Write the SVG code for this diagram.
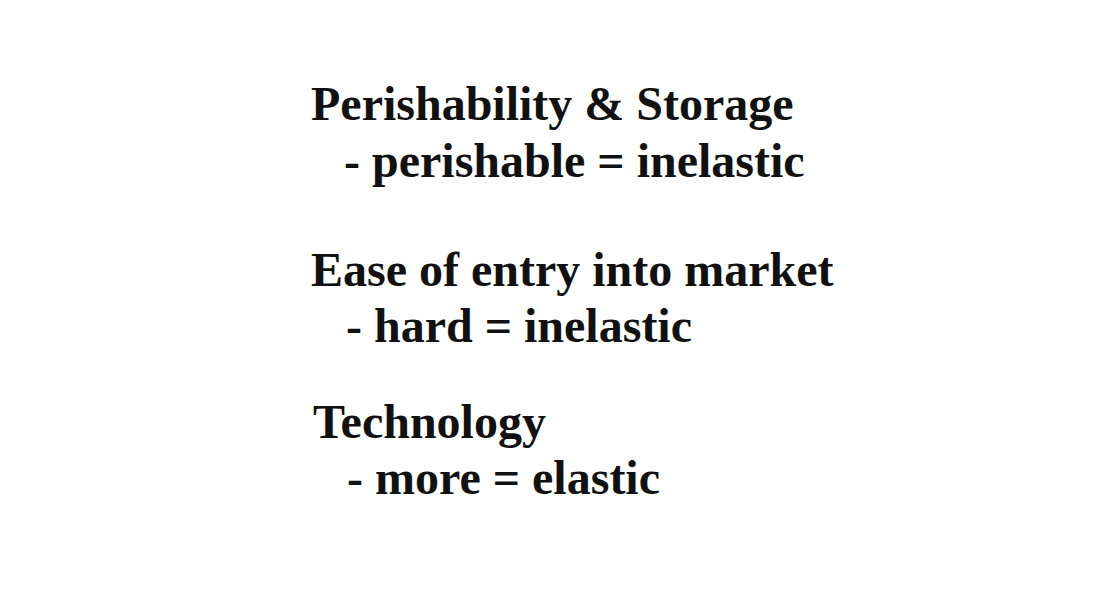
<svg xmlns="http://www.w3.org/2000/svg" width="1115" height="600" viewBox="0 0 1115 600">
<style>
text{font-family:"Liberation Serif","Times New Roman",serif;font-weight:bold;font-size:48px;fill:#111}
</style>
<rect width="1115" height="600" fill="#fff"/>
<g id="perishability">
<text x="311" y="120">Perishability &amp; Storage</text>
<text x="344" y="177">- perishable = inelastic</text>
</g>
<g id="ease">
<text x="311" y="286">Ease of entry into market</text>
<text x="346" y="342">- hard = inelastic</text>
</g>
<g id="technology">
<text x="313" y="438">Technology</text>
<text x="347" y="494">- more = elastic</text>
</g>
</svg>
